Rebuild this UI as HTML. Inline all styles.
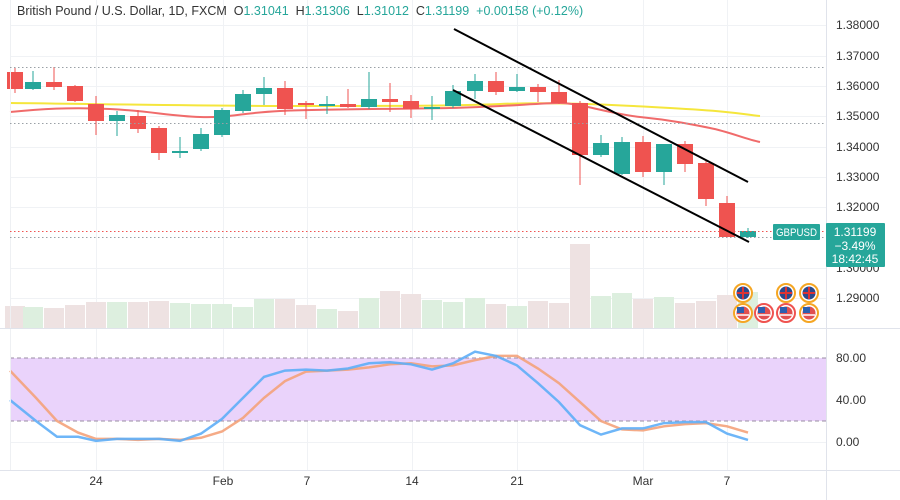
<!DOCTYPE html>
<html><head><meta charset="utf-8"><style>
html,body{margin:0;padding:0;background:#fff;}
svg{display:block;font-family:"Liberation Sans",sans-serif;}
</style></head><body>
<svg id="c" width="900" height="500" viewBox="0 0 900 500" xmlns="http://www.w3.org/2000/svg">
<rect width="900" height="500" fill="#fff"/>
<g id="grid" stroke="#f0f2f5" stroke-width="1"></g>
<g id="vol"></g>
<g id="ma" fill="none" stroke-width="2"></g>
<g id="candles"></g>
<g id="stoch"></g>
<g id="ov"></g>
</svg>
<script>
const NS="http://www.w3.org/2000/svg";
function el(p,t,a,txt){const e=document.createElementNS(NS,t);for(const k in a)e.setAttribute(k,a[k]);if(txt!==undefined)e.textContent=txt;document.getElementById(p).appendChild(e);return e;}
const G='#26a69a',R='#ef5350';
[25,56,86,116,147,177,207,268,298].forEach(y=>el('grid','line',{x1:10,x2:826,y1:y+0.5,y2:y+0.5}));
[96,223,307,412,517,643,727].forEach(x=>el('grid','line',{x1:x+0.5,x2:x+0.5,y1:0,y2:470}));
el('grid','line',{x1:10,x2:826,y1:400.5,y2:400.5});
el('grid','line',{x1:10,x2:826,y1:442.5,y2:442.5});
el('ov','line',{x1:826.5,x2:826.5,y1:0,y2:500,stroke:'#e0e3eb'});
el('ov','line',{x1:10.5,x2:10.5,y1:0,y2:470,stroke:'#eef0f3'});
el('ov','line',{x1:0,x2:900,y1:328.5,y2:328.5,stroke:'#e0e3eb'});
el('ov','line',{x1:0,x2:900,y1:470.5,y2:470.5,stroke:'#e0e3eb'});
const C=[[15,72,89,67,93,0],[33,89,82,71,90,1],[54,82,87,67,90,0],[75,86,101,85,102,0],[96,104,121,96,135,0],[117,121,115,111,136,1],[138,116,129,110,133,0],[159,128,153,126,160,0],[180,153,151,137,158,1],[201,149,134,128,151,1],[222,135,110,108,137,1],[243,111,94,90,113,1],[264,94,88,77,105,1],[285,88,109,81,115,0],[306,103,105,101,119,0],[327,105,104,96,114,1],[348,104,107,89,108,0],[369,107,99,72,109,1],[390,99,102,83,112,0],[411,101,109,95,118,0],[432,108,107,96,120,1],[453,106,91,85,108,1],[475,91,81,74,99,1],[496,81,92,72,95,0],[517,91,87,74,92,1],[538,87,92,84,102,0],[559,92,103,80,104,0],[580,103,155,101,185,0],[601,155,143,135,157,1],[622,174,142,137,175,1],[643,142,172,136,177,0],[664,172,144,144,185,1],[685,144,164,141,172,0],[706,163,199,161,206,0],[727,203,237,196,237,0],[748,237,231,228,238,1]];
C.forEach(c=>{const col=c[5]?G:R;const t=Math.min(c[1],c[2]),b=Math.max(c[1],c[2]);
el('candles','line',{x1:c[0],x2:c[0],y1:c[3],y2:c[4],stroke:col,'stroke-width':1});
el('candles','rect',{x:c[0]-8,y:t,width:16,height:Math.max(2,b-t),fill:col});});
const V=[306,307,308,305,302,302,302,301,303,304,304,307,299,299,305,309,311,298,291,294,300,302,298,304,306,301,303,244,296,293,299,297,303,301,295,292];
V.forEach((y,i)=>{const c=C[i];el('vol','rect',{x:c[0]-10,y:y,width:20,height:328-y,fill:c[5]?'#ddefdf':'#eee2e2'});});
el('ma','path',{stroke:'#f5e63c',d:'M10,103 C100,104 200,106 300,106 S450,106 500,104 S600,104 670,108 S740,114 760,116'});
el('ma','path',{stroke:'#f06b6b',d:'M10,112 C40,109 70,107 110,109 S170,116 200,117 S240,113 280,111 S400,109 450,108 S540,103 560,103 S610,114 640,117 S690,124 710,128 S745,139 760,142'});
[67,123,237].forEach(y=>el('ov','line',{x1:10,x2:826,y1:y+0.5,y2:y+0.5,stroke:'#9aa0a6','stroke-dasharray':'1.5 2.5'}));
el('ov','line',{x1:10,x2:826,y1:231.5,y2:231.5,stroke:'#ef5350','stroke-dasharray':'1.5 2.5'});
el('ov','line',{x1:454,y1:29,x2:748,y2:182,stroke:'#000','stroke-width':2});
el('ov','line',{x1:453,y1:90,x2:749,y2:242,stroke:'#000','stroke-width':2});
el('stoch','rect',{x:10,y:358,width:816,height:63,fill:'#ead3fb'});
el('stoch','line',{x1:10,x2:826,y1:358,y2:358,stroke:'#9a8ca3','stroke-dasharray':'4 3'});
el('stoch','line',{x1:10,x2:826,y1:421,y2:421,stroke:'#9a8ca3','stroke-dasharray':'4 3'});
const X=C.map(c=>c[0]);X[0]=10;X[1]=36;X[2]=57;X[3]=78;
const B=[40,20,5,5,1,3,3,3,1,8,22,42,62,68,69,68,70,75,76,74,69,75,86,82,73,56,38,16,7,13,13,18,19,19,8,2];
const O=[68,42,20,9,3,3,2,3,2,4,10,23,42,58,67,68,69,71,74,75,72,73,78,82,82,70,56,38,20,12,11,15,17,18,15,9];
const pts=a=>a.map((v,i)=>X[i]+','+(442-v*1.05).toFixed(1)).join(' ');
el('stoch','polyline',{points:pts(O),fill:'none',stroke:'#f4a27a','stroke-width':2.5,'stroke-opacity':0.9});
el('stoch','polyline',{points:pts(B),fill:'none',stroke:'#5eaef7','stroke-width':2.5,'stroke-opacity':0.9});
[[25,'1.38000'],[56,'1.37000'],[86,'1.36000'],[116,'1.35000'],[147,'1.34000'],[177,'1.33000'],[207,'1.32000'],[268,'1.30000'],[298,'1.29000']].forEach(l=>el('ov','text',{x:836,y:l[0]+4,'font-size':12,fill:'#333'},l[1]));
[[358,'80.00'],[400,'40.00'],[442,'0.00']].forEach(l=>el('ov','text',{x:836,y:l[0]+4,'font-size':12,fill:'#333'},l[1]));
[[96,'24'],[223,'Feb'],[307,'7'],[412,'14'],[517,'21'],[643,'Mar'],[727,'7']].forEach(l=>el('ov','text',{x:l[0],y:485,'font-size':12,fill:'#333','text-anchor':'middle'},l[1]));
el('ov','rect',{x:773,y:224,width:47,height:16,fill:G,rx:1});
el('ov','text',{x:796.5,y:236,'font-size':11,fill:'#fff','text-anchor':'middle',textLength:41,lengthAdjust:'spacingAndGlyphs'},'GBPUSD');
el('ov','rect',{x:826,y:223,width:59,height:44,fill:G,rx:1});
el('ov','text',{x:855,y:236,'font-size':12,fill:'#fff','text-anchor':'middle'},'1.31199');
el('ov','text',{x:855,y:250,'font-size':12,fill:'#fff','text-anchor':'middle'},'−3.49%');
el('ov','text',{x:855,y:263,'font-size':12,fill:'#fff','text-anchor':'middle'},'18:42:45');
function flag(x,y,uk,ring){el('ov','circle',{cx:x,cy:y,r:9,fill:'#fff',stroke:ring,'stroke-width':2});
if(uk){el('ov','circle',{cx:x,cy:y,r:6.5,fill:'#2b4a8c'});el('ov','line',{x1:x-6,x2:x+6,y1:y,y2:y,stroke:'#d33','stroke-width':2});el('ov','line',{x1:x,x2:x,y1:y-6,y2:y+6,stroke:'#d33','stroke-width':2});}
else{el('ov','circle',{cx:x,cy:y,r:6.5,fill:'#e05050'});el('ov','rect',{x:x-6,y:y-6,width:7,height:6,fill:'#2b5fb0'});el('ov','line',{x1:x-6,x2:x+6,y1:y+2,y2:y+2,stroke:'#fff','stroke-width':1.5});}}
flag(743,293,1,'#f5a623');flag(786,293,1,'#f5a623');flag(809,293,1,'#f5a623');
flag(743,313,0,'#f5a623');flag(764,313,0,'#ef5350');flag(786,313,0,'#ef5350');flag(809,313,0,'#f5a623');
const h=el('ov','text',{x:17,y:15,'font-size':12.5,fill:'#333'});
h.innerHTML='British Pound / U.S. Dollar, 1D, FXCM  <tspan fill="#333">O</tspan><tspan fill="'+G+'">1.31041</tspan>  <tspan fill="#333">H</tspan><tspan fill="'+G+'">1.31306</tspan>  <tspan fill="#333">L</tspan><tspan fill="'+G+'">1.31012</tspan>  <tspan fill="#333">C</tspan><tspan fill="'+G+'">1.31199</tspan>  <tspan fill="'+G+'">+0.00158 (+0.12%)</tspan>';
h.style.whiteSpace='pre';
</script>
</body></html>
